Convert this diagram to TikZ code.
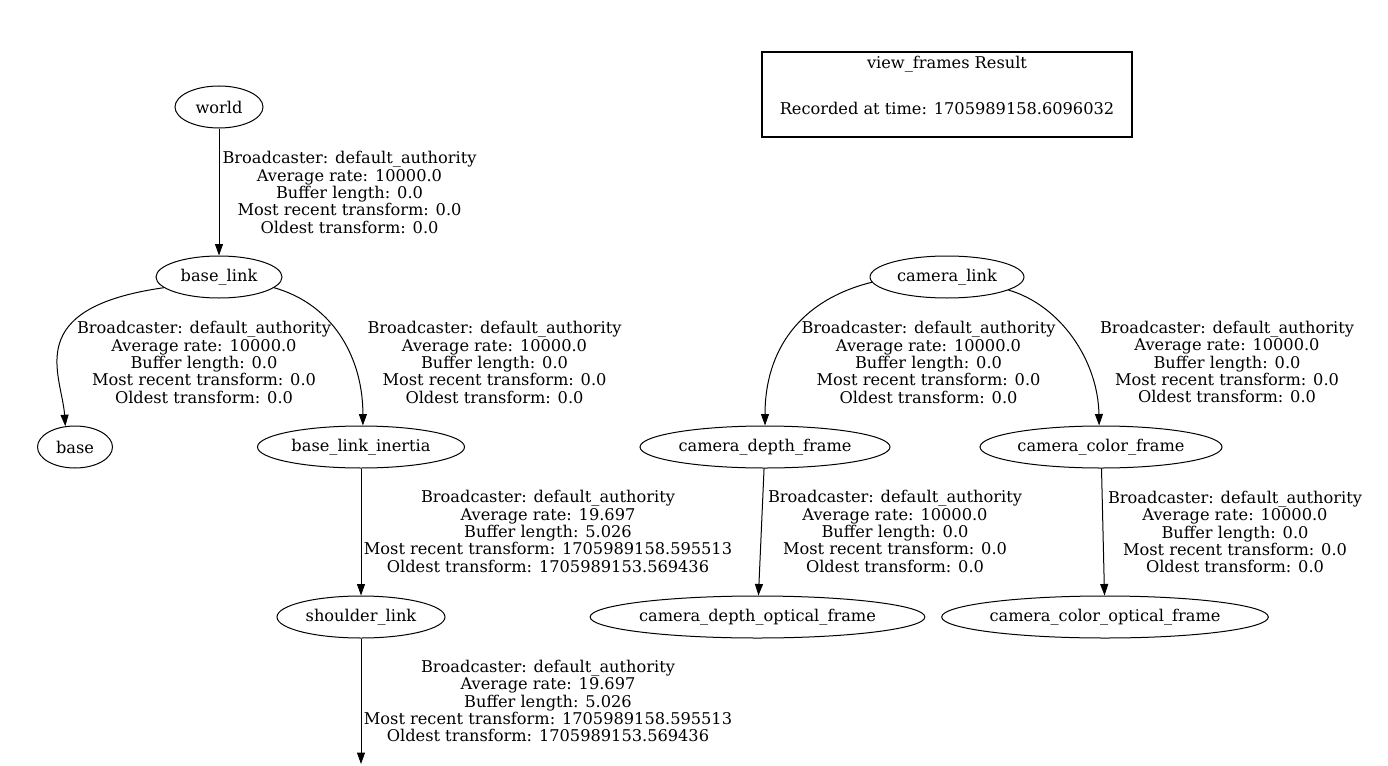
\documentclass[tikz,border=0pt]{standalone}
\usepackage{fontspec}
\setmainfont{DejaVu Serif}
\usetikzlibrary{shapes.geometric,arrows.meta}
\newcommand{\tfStatic}{Broadcaster: default\_authority\\Average rate: 10000.0\\Buffer length: 0.0\\Most recent transform: 0.0\\Oldest transform: 0.0}
\newcommand{\tfDyn}{Broadcaster: default\_authority\\Average rate: 19.697\\Buffer length: 5.026\\Most recent transform: 1705989158.595513\\Oldest transform: 1705989153.569436}
\begin{document}
\begin{tikzpicture}[x=1pt,y=-1pt,
  every node/.style={font=\fontsize{16.2}{17.3}\selectfont},
  frame/.style={draw, ellipse, minimum height=42pt, inner sep=0pt, line width=1pt},
  lbl/.style={align=center, inner sep=0pt},
  edge/.style={draw, line width=1pt, -{Triangle[length=11.5pt,width=8pt]}},
]
\useasboundingbox[fill=white] (0,0) rectangle (1388,765);

% result box
\node[draw, line width=2pt, minimum width=370pt, minimum height=84pt, inner sep=0pt] (box) at (947,94.5) {};
\node[inner sep=0pt] (boxtitle) at (947,64) {view\_frames Result};
\node[inner sep=0pt] (boxtime) at (947,108) {Recorded at time: 1705989158.6096032};

% frames
\node[frame, minimum width=88pt]  (world) at (219,107) {world};
\node[frame, minimum width=126pt] (bl)    at (219,277) {base\_link};
\node[frame, minimum width=75pt]  (base)  at (75,447)  {base};
\node[frame, minimum width=207pt] (bli)   at (361,447) {base\_link\_inertia};
\node[frame, minimum width=168pt] (sh)    at (361,617) {shoulder\_link};
\node[frame, minimum width=154pt] (cl)    at (947,277) {camera\_link};
\node[frame, minimum width=250pt] (cdf)   at (765,447) {camera\_depth\_frame};
\node[frame, minimum width=242pt] (ccf)   at (1101,447) {camera\_color\_frame};
\node[frame, minimum width=332pt] (cdof)  at (757.5,617) {camera\_depth\_optical\_frame};
\node[frame, minimum width=325pt] (ccof)  at (1105,617) {camera\_color\_optical\_frame};
\coordinate (shend) at (361,764);

% connectors
\draw[edge] (world.south) -- (bl.north);
\draw[edge] (bl.191.5) .. controls (20,308) and (62,375) .. (base.115);
\draw[edge] (bl.349) .. controls (335,305) and (363,360) .. (bli.85);
\draw[edge] (bli.south) -- (sh.north);
\draw[edge] (sh.south) -- (shend);
\draw[edge] (cl.184.5) .. controls (800,300) and (765,350) .. (cdf.north);
\draw[edge] (cl.348) .. controls (1060,305) and (1098,360) .. (ccf.95);
\draw[edge] (cdf) -- (cdof);
\draw[edge] (ccf) -- (ccof);

% edge labels
\node[lbl] (l1) at (349.5,192.5) {\tfStatic};
\node[lbl] (l2) at (204,362.5) {\tfStatic};
\node[lbl] (l3) at (494.5,362.5) {\tfStatic};
\node[lbl] (l4) at (548,531.5) {\tfDyn};
\node[lbl] (l5) at (548,701) {\tfDyn};
\node[lbl] (l6) at (928.5,362.5) {\tfStatic};
\node[lbl] (l7) at (1227,362) {\tfStatic};
\node[lbl] (l8) at (895,531.5) {\tfStatic};
\node[lbl] (l9) at (1235,532) {\tfStatic};
\end{tikzpicture}
\end{document}
